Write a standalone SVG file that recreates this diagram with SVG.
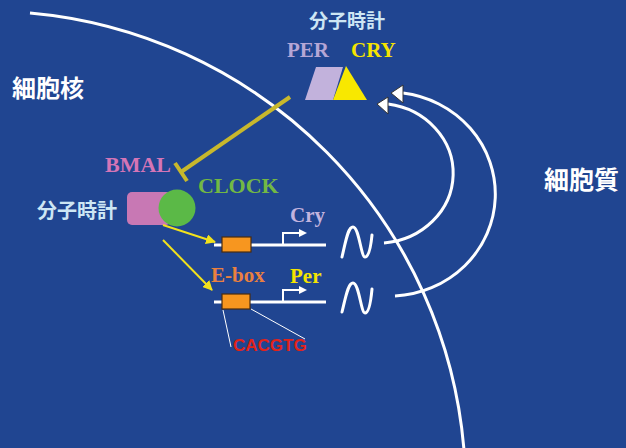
<svg xmlns="http://www.w3.org/2000/svg" width="626" height="448" viewBox="0 0 626 448">
  <defs>
    <style>
      .jp { font-family: "Noto Sans CJK JP", "Noto Sans", sans-serif; font-weight: bold; }
      .serif { font-family: "Liberation Serif", "Times New Roman", serif; font-weight: bold; }
      .white-line { fill: none; stroke: #ffffff; stroke-width: 3; }
      .gene { stroke: #ffffff; stroke-width: 3; }
      .ebox { fill: #f7961f; stroke: #4a2c10; stroke-width: 1.2; }
      .promoter { fill: none; stroke: #ffffff; stroke-width: 2; }
      .wave { fill: none; stroke: #ffffff; stroke-width: 3; stroke-linecap: round; stroke-linejoin: round; }
      .activate { stroke: #f2e21c; stroke-width: 2; fill: none; }
      .return-head { fill: #ffffff; stroke: #333333; stroke-width: 1; }
    </style>
    <marker id="yellowHead" viewBox="0 0 10 10" refX="9" refY="5" markerWidth="5" markerHeight="5" orient="auto" markerUnits="strokeWidth">
      <path d="M0,0 L10,5 L0,10 z" fill="#f2e21c"/>
    </marker>
  </defs>

  <!-- background -->
  <rect x="0" y="0" width="626" height="448" fill="#204591"/>

  <!-- nuclear membrane -->
  <path id="membrane" class="white-line" stroke-width="3.5" d="M30,13 A478,478 0 0 1 464,450"/>

  <!-- compartment labels -->
  <text class="jp" x="12" y="97" font-size="24" fill="#ffffff">細胞核</text>
  <text class="jp" x="544" y="189" font-size="25" fill="#ffffff">細胞質</text>

  <!-- PER / CRY complex in cytoplasm -->
  <g id="per-cry">
    <text class="jp" x="347" y="28" font-size="19" fill="#cde6f4" text-anchor="middle">分子時計</text>
    <text class="serif" x="287" y="57" font-size="21" fill="#b5a6d6">PER</text>
    <text class="serif" x="351" y="57" font-size="21" fill="#f5e400">CRY</text>
    <polygon points="305,100 316,67 343,67 333,100" fill="#c2b2dc"/>
    <polygon points="346,66 333,100 367,100" fill="#f8e800"/>
  </g>

  <!-- BMAL / CLOCK complex -->
  <g id="bmal-clock">
    <text class="jp" x="37" y="218" font-size="20" fill="#cde6f4">分子時計</text>
    <text class="serif" x="105" y="172" font-size="22" fill="#d575b6">BMAL</text>
    <text class="serif" x="198" y="193" font-size="22" fill="#72b844">CLOCK</text>
    <rect x="127" y="192" width="44" height="33" rx="5" fill="#c878b4"/>
    <circle cx="177" cy="208" r="18.5" fill="#5bb947"/>
  </g>

  <!-- Cry gene -->
  <g id="cry-gene">
    <line class="gene" x1="214" y1="245" x2="326" y2="245"/>
    <rect class="ebox" x="222" y="237" width="29" height="15"/>
    <path class="promoter" d="M283,245 V233 H300"/>
    <path d="M299,229 L307,233 L299,237 z" fill="#ffffff"/>
    <text class="serif" x="290" y="222" font-size="21" fill="#c3b4de">Cry</text>
    <path class="wave" d="M342,257 C346,240 348,227 353,227 C359,227 361,257 365,257 C369,257 371,245 372,235"/>
  </g>

  <!-- Per gene -->
  <g id="per-gene">
    <line class="gene" x1="214" y1="302" x2="326" y2="302"/>
    <rect class="ebox" x="222" y="294" width="28" height="15"/>
    <path class="promoter" d="M283,302 V290 H300"/>
    <path d="M299,286 L307,290 L299,294 z" fill="#ffffff"/>
    <text class="serif" x="290" y="283" font-size="21" fill="#f5e400">Per</text>
    <text class="serif" x="211" y="282" font-size="21" fill="#ea8040">E-box</text>
    <path class="wave" d="M342,312 C346,296 348,283 353,283 C359,283 361,313 365,313 C369,313 371,300 372,289"/>
  </g>

  <!-- E-box sequence -->
  <g id="cacgtg">
    <line x1="223" y1="310" x2="231" y2="347" stroke="#ffffff" stroke-width="1"/>
    <line x1="251" y1="309" x2="305" y2="339" stroke="#ffffff" stroke-width="1"/>
    <text x="233" y="351" font-family="Liberation Sans, Arial, sans-serif" font-weight="bold" font-size="17" fill="#e2231a">CACGTG</text>
  </g>

  <!-- connectors -->
  <g id="connectors">
    <!-- inhibition of BMAL/CLOCK by PER/CRY -->
    <line x1="290" y1="97" x2="181" y2="172" stroke="#c8b82c" stroke-width="4"/>
    <line x1="175" y1="163" x2="187" y2="181" stroke="#c8b82c" stroke-width="4"/>
    <!-- activation of E-box -->
    <line class="activate" x1="163" y1="225" x2="215" y2="242" marker-end="url(#yellowHead)"/>
    <line class="activate" x1="163" y1="240" x2="212" y2="290" marker-end="url(#yellowHead)"/>
    <!-- translation back to protein -->
    <path class="white-line" d="M384,243 A76,70 0 0 0 388,104"/>
    <path class="white-line" d="M395,296 A106,102 0 0 0 403,93"/>
    <polygon class="return-head" points="377,104 388,97 388,114"/>
    <polygon class="return-head" points="391,93 403,85 403,103"/>
  </g>
</svg>
